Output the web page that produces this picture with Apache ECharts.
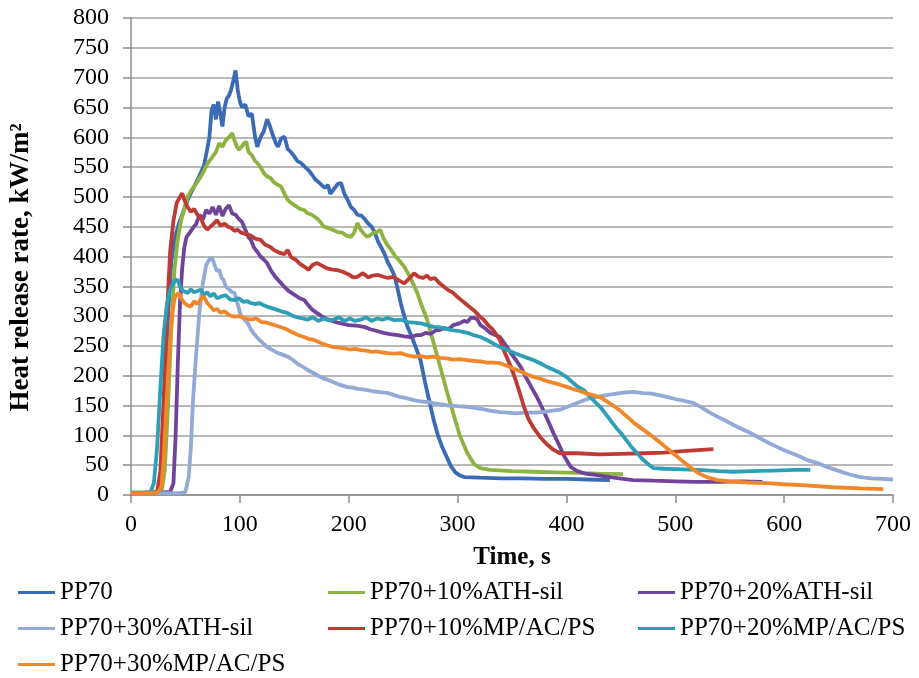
<!DOCTYPE html>
<html>
<head>
<meta charset="utf-8">
<title>Heat release rate</title>
<script src="https://cdn.jsdelivr.net/npm/echarts@6/dist/echarts.min.js"></script>
<style>
  html, body { margin: 0; padding: 0; background: #fff; }
  #main { width: 919px; height: 678px; }
</style>
</head>
<body>
<div id="main"></div>
<script>
  // series names / legend
  var names = ['PP70', 'PP70+10%ATH-sil', 'PP70+20%ATH-sil', 'PP70+30%ATH-sil',
    'PP70+10%MP/AC/PS', 'PP70+20%MP/AC/PS', 'PP70+30%MP/AC/PS']
  var colors = ['#3b6bb5', '#8fb340', '#6f449a', '#93a9d6', '#be3a34', '#2e9fb7', '#f0882a']

  // [time s, HRR kW/m2]
  var pp70 = [[0,4],[10,4],[20,5],[25,6],[28,30],[31,150],[34,300],[37,390],[40,430],[44,455],[48,475],[52,495],[56,510],[61,528],[64,540],[67,552],[70,580],[72,600],[74,645],[76,655],[78,630],[80,660],[82,640],[84,618],[86,650],[88,665],[90,670],[92,680],[94,695],[96,712],[98,680],[100,660],[102,650],[105,655],[108,635],[111,640],[114,600],[116,584],[119,600],[122,610],[125,630],[127,622],[130,605],[133,590],[135,584],[138,598],[141,601],[144,580],[147,575],[150,568],[153,560],[156,557],[160,550],[163,545],[166,538],[169,530],[172,525],[175,520],[178,515],[181,520],[183,505],[186,512],[190,522],[193,523],[196,505],[199,495],[202,483],[205,478],[208,470],[212,468],[215,462],[218,455],[221,450],[224,440],[227,425],[230,415],[233,404],[236,390],[239,380],[242,368],[245,345],[248,320],[251,300],[254,282],[258,265],[262,246],[266,226],[270,190],[274,158],[278,126],[282,100],[286,80],[290,64],[294,48],[298,38],[302,33],[306,30],[320,29],[340,28],[360,28],[380,27],[400,27],[420,26],[440,25]]
  var ath10 = [[0,4],[20,4],[28,6],[31,40],[34,150],[37,280],[40,380],[43,430],[46,460],[49,480],[52,500],[55,510],[58,517],[62,528],[66,540],[70,555],[74,565],[78,575],[81,590],[84,584],[87,595],[90,600],[93,607],[95,595],[97,585],[99,579],[102,585],[104,590],[106,592],[108,575],[111,570],[114,560],[116,557],[119,550],[122,540],[125,534],[128,532],[131,525],[135,520],[138,517],[141,505],[144,495],[147,490],[151,485],[155,480],[159,478],[162,473],[166,470],[170,465],[174,458],[177,450],[181,448],[185,445],[190,441],[194,440],[198,435],[202,433],[205,440],[208,456],[211,445],[214,438],[217,433],[220,436],[223,440],[226,441],[229,445],[232,430],[236,418],[239,411],[243,400],[247,392],[251,383],[255,370],[259,355],[263,339],[267,318],[272,294],[278,255],[284,215],[290,175],[296,137],[302,100],[309,70],[315,52],[321,45],[330,42],[350,40],[370,39],[390,38],[410,37],[430,36],[452,35]]
  var ath20 = [[0,3],[20,3],[36,5],[39,20],[41,100],[43,220],[45,320],[47,380],[49,415],[51,433],[54,440],[57,448],[60,455],[63,470],[66,462],[69,478],[72,472],[75,483],[78,470],[81,485],[84,468],[87,480],[90,486],[93,472],[96,470],[99,463],[102,458],[105,445],[108,432],[110,428],[113,415],[116,408],[119,400],[122,395],[125,389],[129,375],[133,365],[137,357],[141,349],[145,342],[150,336],[155,330],[159,327],[163,318],[167,310],[171,305],[175,300],[180,295],[185,292],[190,289],[195,287],[200,285],[207,284],[214,282],[220,278],[226,275],[232,272],[238,270],[245,268],[251,266],[257,265],[262,268],[266,268],[271,272],[275,270],[280,276],[284,277],[288,280],[292,278],[296,285],[300,287],[303,289],[306,292],[309,290],[312,297],[315,297],[318,295],[321,285],[325,280],[330,272],[335,268],[339,265],[344,252],[349,238],[353,228],[358,215],[363,197],[368,180],[373,164],[378,145],[383,125],[388,104],[393,85],[398,65],[404,47],[410,40],[417,36],[425,34],[440,30],[461,25],[480,24],[500,23],[520,22],[540,22],[560,23],[580,22]]
  var ath30 = [[0,3],[20,3],[45,3],[50,5],[53,30],[55,80],[57,160],[60,240],[63,310],[66,355],[69,385],[71,392],[73,398],[75,395],[77,385],[79,375],[81,378],[83,365],[85,361],[87,350],[90,345],[93,340],[95,339],[98,320],[101,300],[104,295],[107,289],[110,278],[113,270],[117,262],[121,255],[125,248],[130,243],[135,238],[140,235],[144,232],[149,226],[153,220],[158,215],[162,210],[167,205],[172,200],[176,196],[181,193],[186,189],[190,186],[195,183],[199,181],[204,180],[208,178],[213,177],[217,176],[222,174],[227,173],[231,172],[236,171],[241,168],[248,164],[254,162],[260,159],[266,157],[272,156],[278,154],[285,152],[292,150],[300,149],[309,148],[316,146],[323,144],[331,141],[339,139],[346,138],[354,137],[362,138],[370,138],[378,139],[386,141],[394,143],[401,148],[408,153],[416,159],[423,163],[430,165],[438,168],[446,170],[454,172],[462,173],[470,171],[478,170],[486,167],[493,164],[500,161],[508,158],[517,154],[524,147],[531,139],[539,131],[547,124],[554,117],[562,110],[569,104],[577,96],[584,89],[592,82],[599,76],[607,70],[615,64],[622,58],[630,54],[638,48],[646,43],[654,38],[661,34],[670,30],[680,28],[690,27],[700,26]]
  var mp10 = [[0,3],[20,3],[24,5],[27,40],[30,160],[33,300],[36,410],[39,460],[42,490],[45,500],[47,506],[49,495],[52,483],[55,475],[58,480],[61,470],[64,465],[67,452],[70,445],[73,450],[76,455],[79,461],[82,452],[86,455],[89,450],[92,448],[95,443],[98,445],[101,440],[105,438],[110,435],[114,430],[119,428],[123,420],[128,416],[132,410],[137,406],[141,404],[144,411],[147,399],[151,395],[155,388],[159,383],[163,378],[167,386],[171,389],[175,385],[180,380],[185,378],[190,377],[195,374],[200,370],[204,365],[208,366],[213,372],[218,365],[222,368],[227,369],[232,366],[236,364],[241,366],[246,360],[251,355],[255,362],[260,372],[264,366],[268,364],[272,368],[275,362],[279,364],[283,356],[287,350],[291,344],[296,339],[300,332],[304,326],[308,320],[312,314],[316,308],[320,300],[324,294],[328,285],[332,278],[336,268],[339,260],[342,245],[345,232],[349,215],[353,195],[357,172],[361,148],[365,128],[370,112],[376,97],[382,85],[388,76],[394,70],[410,70],[430,68],[450,69],[470,70],[490,71],[510,74],[535,77]]
  var mp20 = [[0,3],[15,3],[18,5],[21,20],[24,80],[27,180],[30,270],[33,320],[36,345],[39,355],[41,361],[43,360],[45,350],[48,342],[52,339],[55,345],[58,340],[61,342],[64,344],[67,336],[70,340],[73,333],[76,338],[79,330],[83,333],[87,335],[91,328],[95,327],[99,330],[103,324],[107,325],[110,322],[114,320],[118,322],[122,318],[125,316],[130,313],[135,310],[140,307],[144,305],[149,300],[153,298],[158,296],[162,294],[167,298],[172,292],[177,296],[181,293],[186,294],[191,298],[196,292],[201,296],[206,292],[211,294],[216,298],[221,292],[226,296],[231,294],[236,297],[242,293],[248,294],[254,290],[260,289],[266,288],[272,285],[278,282],[284,281],[290,278],[296,276],[302,275],[309,272],[315,268],[321,265],[327,260],[333,254],[339,248],[345,244],[351,239],[358,234],[364,230],[370,226],[376,221],[382,215],[388,210],[394,205],[400,198],[405,190],[410,182],[416,176],[422,164],[427,155],[431,148],[436,136],[441,124],[446,112],[450,104],[455,92],[460,80],[465,70],[470,60],[475,52],[480,45],[490,44],[507,43],[520,42],[540,40],[553,39],[570,40],[590,41],[610,42],[624,42]]
  var mp30 = [[0,3],[20,3],[25,5],[28,15],[30,60],[32,130],[34,200],[36,260],[38,305],[40,330],[42,336],[44,339],[46,330],[49,322],[52,318],[55,316],[58,325],[61,320],[64,328],[67,333],[70,322],[73,316],[76,310],[79,312],[82,306],[86,308],[90,302],[95,299],[100,300],[105,296],[110,294],[115,296],[120,290],[125,289],[130,286],[135,283],[140,280],[144,277],[149,272],[154,268],[159,265],[163,262],[168,260],[173,256],[177,253],[182,250],[186,248],[191,247],[196,246],[201,244],[206,245],[211,243],[216,242],[221,240],[226,241],[231,239],[236,238],[242,237],[248,238],[254,234],[260,232],[266,233],[272,231],[278,232],[284,230],[290,229],[296,227],[302,228],[309,226],[315,225],[321,224],[327,222],[333,222],[339,221],[345,217],[351,212],[358,207],[364,202],[370,198],[376,195],[382,191],[388,188],[394,185],[401,181],[407,177],[413,174],[419,170],[425,167],[431,164],[437,157],[443,150],[449,142],[456,131],[462,121],[468,113],[474,105],[480,97],[486,88],[492,79],[498,70],[504,61],[510,52],[517,42],[523,35],[529,30],[539,25],[550,23],[565,21],[584,20],[600,18],[620,16],[645,13],[670,11],[691,10]]

  var allData = [pp70, ath10, ath20, ath30, mp10, mp20, mp30]

  var myChart = echarts.init(document.getElementById('main'))
  var font = 'Liberation Serif'

  // one vertical legend per column, like the Excel layout
  function legendCol(left, data) {
    return {
      orient: 'vertical',
      left: left,
      top: 580,
      height: 110,
      padding: 0,
      itemGap: 11,
      itemWidth: 37,
      itemHeight: 3,
      icon: 'rect',
      data: data,
      textStyle: { fontFamily: font, fontSize: 25, color: '#000', lineHeight: 25 }
    }
  }

  var option = {
    animation: false,
    backgroundColor: '#fff',
    color: colors,
    grid: { left: 130, right: 26, top: 18, bottom: 183 },
    legend: [
      legendCol(18, [names[0], names[3], names[6]]),
      legendCol(328, [names[1], names[4]]),
      legendCol(638, [names[2], names[5]])
    ],
    xAxis: {
      type: 'value',
      min: 0,
      max: 700,
      interval: 100,
      name: 'Time, s',
      nameLocation: 'middle',
      nameGap: 50,
      nameTextStyle: { fontFamily: font, fontSize: 25, fontWeight: 'bold', color: '#000' },
      axisLine: { lineStyle: { color: '#8c8c8c', width: 1.5 } },
      axisTick: { show: true, length: 8, lineStyle: { color: '#8c8c8c', width: 1.5 } },
      axisLabel: { fontFamily: font, fontSize: 24, color: '#000', margin: 18 },
      splitLine: { show: false }
    },
    yAxis: {
      type: 'value',
      min: 0,
      max: 800,
      interval: 50,
      name: 'Heat release rate, kW/m²',
      nameLocation: 'middle',
      nameGap: 96,
      nameTextStyle: { fontFamily: font, fontSize: 27, fontWeight: 'bold', color: '#000', padding: [0, 22, 0, 0] },
      axisLine: { show: true, lineStyle: { color: '#8c8c8c', width: 1.5 } },
      axisTick: { show: true, length: 8, lineStyle: { color: '#8c8c8c', width: 1.5 } },
      axisLabel: { fontFamily: font, fontSize: 24, color: '#000', margin: 22 },
      splitLine: { show: true, lineStyle: { color: '#a0a0a0', width: 1.5 } }
    },
    series: names.map(function (n, i) {
      return {
        name: n,
        type: 'line',
        data: allData[i],
        showSymbol: false,
        symbol: 'none',
        lineStyle: { width: 3.8, color: colors[i] },
        itemStyle: { color: colors[i] }
      }
    })
  }

  option && myChart.setOption(option)
  window.addEventListener('resize', () => {
    myChart.resize()
  })
</script>
</body>
</html>
